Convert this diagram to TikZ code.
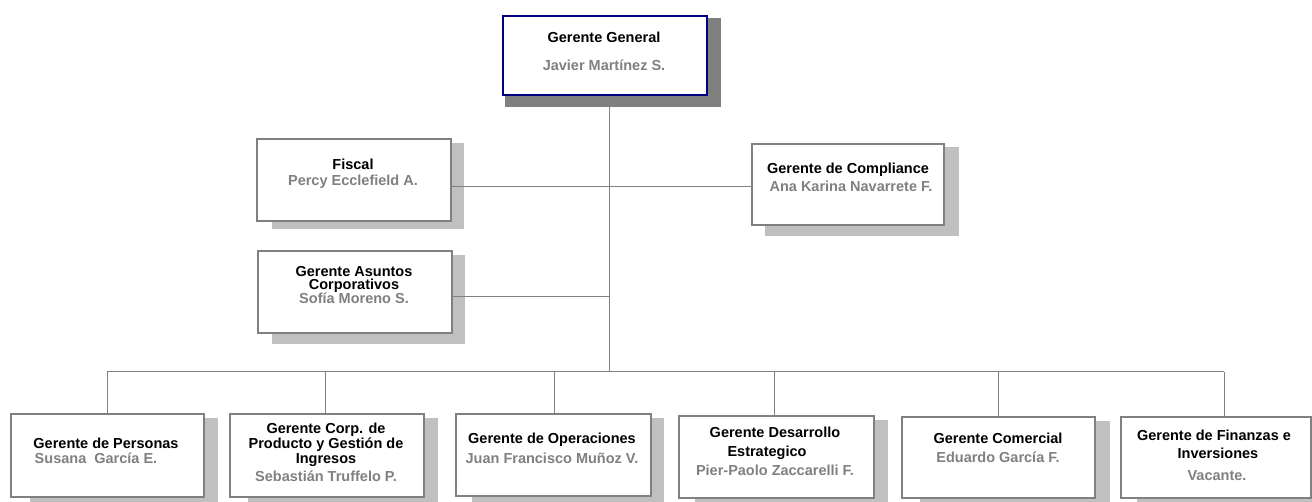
\documentclass[tikz,border=0pt]{standalone}
\usepackage{fontspec}
\setmainfont{Liberation Sans}
\definecolor{linegray}{RGB}{128,128,128}
\definecolor{shadelight}{RGB}{192,192,192}
\definecolor{shadedark}{RGB}{128,128,128}
\definecolor{navy}{RGB}{0,0,128}
\definecolor{namegray}{RGB}{128,128,128}
\tikzset{
  orgbox/.style={draw=linegray, line width=2pt, fill=white, inner sep=0pt, anchor=north west},
  topbox/.style={orgbox, draw=navy},
  conn/.style={draw=linegray, line width=1pt},
  ttl/.style={anchor=base, inner sep=0pt, font=\bfseries\fontsize{14.5}{14.5}\selectfont, text=black},
  nm/.style={anchor=base, inner sep=0pt, font=\bfseries\fontsize{14.5}{14.5}\selectfont, text=namegray},
}
\begin{document}
\begin{tikzpicture}[x=1pt,y=-1pt]
\useasboundingbox (0,0) rectangle (1312,502);
% shadows
\fill[shadedark] (505,18) rectangle (721,107);
\fill[shadelight] (272,143) rectangle (464,229);
\fill[shadelight] (765,147) rectangle (959,236);
\fill[shadelight] (272,255) rectangle (465,344);
\fill[shadelight] (30,418) rectangle (218,505);
\fill[shadelight] (248,418) rectangle (438,505);
\fill[shadelight] (472,418) rectangle (664,505);
\fill[shadelight] (695,420) rectangle (888,505);
\fill[shadelight] (920,421) rectangle (1110,505);
\fill[shadelight] (1137,421) rectangle (1330,505);
% connectors (coordinates)
\coordinate (spine) at (609,372);
\coordinate (fl) at (450,187);
\coordinate (cl) at (751,187);
\coordinate (al) at (451,297);
\coordinate (j1) at (107,372);
\coordinate (j2) at (325,372);
\coordinate (j3) at (554,372);
\coordinate (j4) at (774,372);
\coordinate (j5) at (998,372);
\coordinate (j6) at (1224,372);
% boxes
\node[topbox, minimum width=204pt, minimum height=79pt] (gg) at (502,15) {};
\node[orgbox, minimum width=194pt, minimum height=82pt] (fis) at (256,138) {};
\node[orgbox, minimum width=192pt, minimum height=81pt] (com) at (751,143) {};
\node[orgbox, minimum width=194pt, minimum height=82pt] (asu) at (257,250) {};
\node[orgbox, minimum width=193pt, minimum height=83pt] (b1) at (10,413) {};
\node[orgbox, minimum width=194pt, minimum height=83pt] (b2) at (229,413) {};
\node[orgbox, minimum width=195pt, minimum height=82pt] (b3) at (455,413) {};
\node[orgbox, minimum width=195pt, minimum height=82pt] (b4) at (678,415) {};
\node[orgbox, minimum width=193pt, minimum height=81pt] (b5) at (901,416) {};
\node[orgbox, minimum width=190pt, minimum height=81pt] (b6) at (1120,416) {};
% lines
\draw[conn] (gg.south -| spine) -- (spine);
\draw[conn] (fis.east |- fl) -- (com.west |- cl);
\draw[conn] (asu.east |- al) -- (spine |- al);
\draw[conn] (j1) -- (j6);
\draw[conn] (j1) -- (j1 |- b1.north);
\draw[conn] (j2) -- (j2 |- b2.north);
\draw[conn] (j3) -- (j3 |- b3.north);
\draw[conn] (j4) -- (j4 |- b4.north);
\draw[conn] (j5) -- (j5 |- b5.north);
\draw[conn] (j6) -- (j6 |- b6.north);
% texts
\node[ttl] (gg-t) at (604,43) {Gerente General};
\node[nm]  (gg-n) at (604,71) {Javier Martínez S.};
\node[ttl] (fis-t) at (353,170) {Fiscal};
\node[nm]  (fis-n) at (353,186) {Percy Ecclefield A.};
\node[ttl] (com-t) at (848,174) {Gerente de Compliance};
\node[nm]  (com-n) at (851,192) {Ana Karina Navarrete F.};
\node[ttl] (asu-t1) at (354,277) {Gerente Asuntos};
\node[ttl] (asu-t2) at (354,290) {Corporativos};
\node[nm]  (asu-n) at (354,304) {Sofía Moreno S.};
\node[ttl] (b1-t) at (106,448) {Gerente de Personas};
\node[nm]  (b1-n) at (96,464) {Susana\ \ García E.};
\node[ttl] (b2-t1) at (326,433) {Gerente Corp. de};
\node[ttl] (b2-t2) at (326,448) {Producto y Gestión de};
\node[ttl] (b2-t3) at (326,464) {Ingresos};
\node[nm]  (b2-n) at (326,481) {Sebastián Truffelo P.};
\node[ttl] (b3-t) at (552,443) {Gerente de Operaciones};
\node[nm]  (b3-n) at (552,463) {Juan Francisco Muñoz V.};
\node[ttl] (b4-t1) at (775,438) {Gerente Desarrollo};
\node[ttl] (b4-t2) at (767,456) {Estrategico};
\node[nm]  (b4-n) at (775,475) {Pier-Paolo Zaccarelli F.};
\node[ttl] (b5-t) at (998,443) {Gerente Comercial};
\node[nm]  (b5-n) at (998,462) {Eduardo García F.};
\node[ttl] (b6-t1) at (1214,440) {Gerente de Finanzas e};
\node[ttl] (b6-t2) at (1218,458) {Inversiones};
\node[nm]  (b6-n) at (1217,480) {Vacante.};
\end{tikzpicture}
\end{document}
